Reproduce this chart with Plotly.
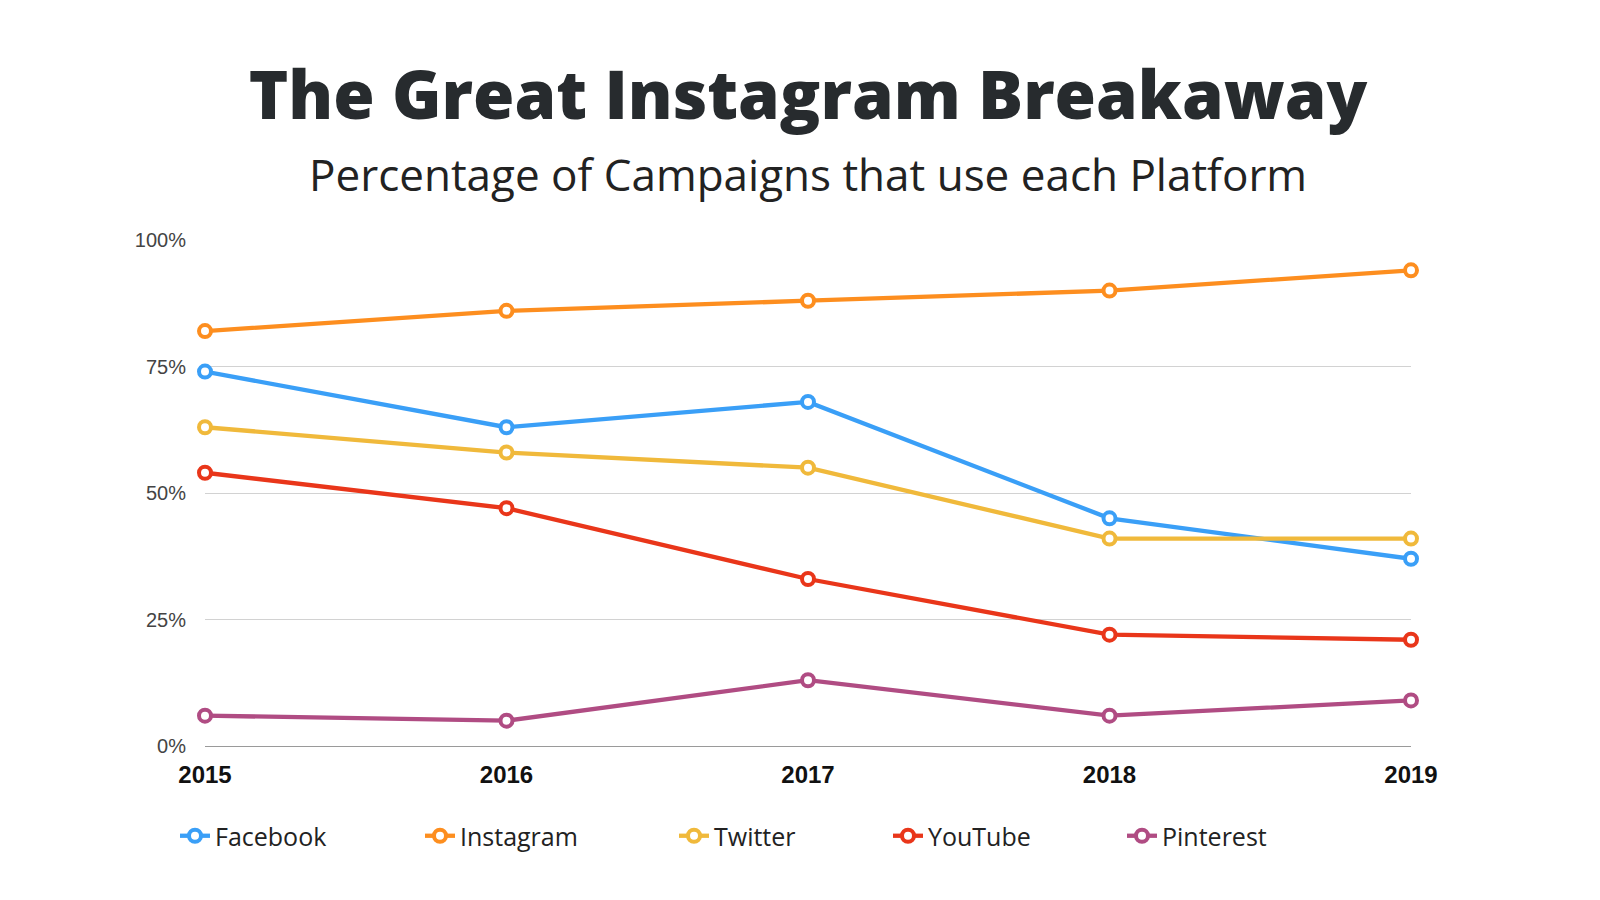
import plotly.graph_objects as go

# data (% of campaigns)
years = [2015, 2016, 2017, 2018, 2019]
platforms = ["Facebook", "Instagram", "Twitter", "YouTube", "Pinterest"]
facebook = [74, 63, 68, 45, 37]
instagram = [82, 86, 88, 90, 94]
twitter = [63, 58, 55, 41, 41]
youtube = [54, 47, 33, 22, 21]
pinterest = [6, 5, 13, 6, 9]
y_ticks = [0, 25, 50, 75, 100]
y_tick_labels = ["0%", "25%", "50%", "75%", "100%"]

title = "The Great Instagram Breakaway"
subtitle = "Percentage of Campaigns that use each Platform"

series = [facebook, instagram, twitter, youtube, pinterest]
colors = ["#3a9ff7", "#fd8e1f", "#f0b93b", "#e9361a", "#b04c83"]

# plot box in pixels
L, R, T, B = 197, 197, 232, 162
W, H = 1600, 900
plot_w = W - L - R
plot_h = H - T - B

# one legend per trace so the entries sit where the reference has them
legend_px = [167, 412, 666, 880, 1114]

fig = go.Figure()
for i, (name, vals, col) in enumerate(zip(platforms, series, colors)):
    fig.add_trace(go.Scatter(
        x=years, y=vals, name=name, mode="lines+markers",
        line=dict(color=col, width=4.3),
        marker=dict(size=12, color="white", line=dict(color=col, width=4)),
        cliponaxis=False,
        legend="legend" if i == 0 else f"legend{i + 1}",
    ))

leg_common = dict(orientation="h", xanchor="left", yanchor="middle",
                  y=(H - B - 828) / plot_h,
                  font=dict(family="Open Sans", size=25, color="#222"),
                  itemwidth=30, bgcolor="rgba(0,0,0,0)")
legends = {}
for i, px in enumerate(legend_px):
    key = "legend" if i == 0 else f"legend{i + 1}"
    legends[key] = dict(leg_common, x=(px - L) / plot_w)

fig.update_layout(
    width=W, height=H,
    paper_bgcolor="white", plot_bgcolor="white",
    margin=dict(l=L, r=R, t=T, b=B),
    title=dict(text=title, x=0.5, xanchor="center",
               y=1 - 88 / H, yanchor="middle", yref="container",
               font=dict(family="Open Sans", size=67, weight=800, color="#272b2e")),
    showlegend=True,
    annotations=[dict(text=subtitle,
                      xref="paper", yref="paper", x=0.5, y=(H - B - 166) / plot_h,
                      xanchor="center", yanchor="middle", showarrow=False,
                      font=dict(family="Open Sans", size=44, weight=400, color="#222"))],
    **legends,
)

fig.update_xaxes(range=[2015, 2019], tickvals=years, showgrid=False, zeroline=False,
                 showline=False, ticks="", ticklabelstandoff=12,
                 tickfont=dict(family="Liberation Sans", size=24, color="#111", weight="bold"))
fig.update_yaxes(range=[0, 100], tickvals=y_ticks, ticktext=y_tick_labels,
                 showgrid=True, gridcolor="#d2d2d2", gridwidth=1.3,
                 zeroline=True, zerolinecolor="#9a9a9a", zerolinewidth=1.3,
                 showline=False, ticks="", ticklabelstandoff=18,
                 tickfont=dict(family="Liberation Sans", size=20, color="#444"))

fig.write_html("out.html")
